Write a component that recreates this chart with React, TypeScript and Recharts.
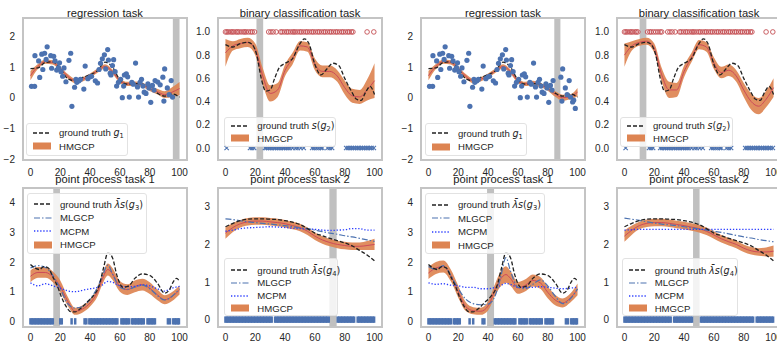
import React from "react";
import { ComposedChart, XAxis, YAxis, Area, Line, Scatter, ReferenceArea } from "recharts";

const FONT = '"Liberation Sans", Arial, Helvetica, sans-serif';
const MATH = '"DejaVu Sans", "Liberation Sans", sans-serif';

const XT = [0, 20, 40, 60, 80, 100];
const X5 = [0, 5, 10, 15, 20, 25, 30, 35, 40, 45, 50, 55, 60, 65, 70, 75, 80, 85, 90, 95, 100];

// ---------- regression task ----------
const regPtsX = [0.7, 2.8, 3, 5.5, 6.2, 7.6, 8.3, 9.5, 10.5, 11.2, 13.6, 14.2, 15.6, 16.5, 17.6, 18.8, 19.5, 20.5, 21.6, 22.5, 23.8, 25.8, 27, 27.8, 29.6, 30.5, 31.1, 32.5, 33.5, 35.8, 36.7, 38.5, 40, 41, 43.5, 45, 46, 47, 48.2, 49.6, 50.5, 51.8, 52.3, 53.5, 54, 55, 55.8, 56.8, 57.8, 59, 60.5, 61.6, 62.5, 63, 64.3, 65.2, 66.3, 68, 69, 70.5, 71.8, 72.5, 73.5, 74.5, 75.5, 76.3, 77.5, 78.8, 79.5, 80.7, 81.8, 82.9, 83.6, 85.4, 87, 88.8, 89.5, 90, 91.8, 93, 94.4, 95.3, 96.7, 97.4, 98.5];
const regPtsY = [0.37, 0.37, 1.37, 1.2, 0.66, 1.42, 0.92, 1.45, 1.25, 1.66, 1.37, 0.96, 1.35, 1.2, 0.9, 0.98, 1.14, 0.85, 0.7, 0.97, 0.52, 1.22, 1.45, -0.28, 0.34, 0.6, 0.5, 0.55, 0.6, 0.28, 1.03, 0.62, 0.68, 0.7, 0.55, 0.48, 0.92, 1.12, 1.27, 1.4, 0.94, 1.57, 1.23, 0.8, 0.74, 1.05, 1.24, 0.85, 0.38, 0.5, 0.6, 0.0, 0.38, 0.74, 0.78, 0.68, 0.02, 0.5, 0.44, 1.13, 0.35, 0.02, 0.5, 0.6, 0.38, 0.18, 0.14, 0.45, 0.32, -0.15, 0.4, 0.25, 0.56, 0.51, 0.42, 0.67, -0.11, 0.94, 0.32, 0.1, 0.56, 0.02, -0.14, -0.08, -0.35];
const regTruth = [0.95, 0.97, 1.15, 1.17, 0.95, 0.62, 0.55, 0.66, 0.75, 0.88, 1.16, 1.0, 0.58, 0.44, 0.46, 0.44, 0.32, 0.15, 0.05, 0.12, 0.02];
const regMeanA = [0.72, 1.02, 1.18, 1.15, 0.95, 0.7, 0.55, 0.6, 0.72, 0.88, 1.02, 0.85, 0.55, 0.45, 0.46, 0.42, 0.3, 0.2, 0.1, 0.18, 0.3];
const regStdA = [0.15, 0.08, 0.07, 0.07, 0.07, 0.07, 0.07, 0.07, 0.07, 0.07, 0.07, 0.07, 0.07, 0.07, 0.07, 0.07, 0.08, 0.09, 0.11, 0.16, 0.21];
const regMeanB = [0.72, 1.02, 1.18, 1.15, 0.95, 0.7, 0.55, 0.6, 0.72, 0.88, 1.02, 0.85, 0.55, 0.45, 0.48, 0.42, 0.3, 0.12, 0.0, 0.03, 0.18];
const regStdB = [0.15, 0.08, 0.07, 0.07, 0.07, 0.07, 0.07, 0.07, 0.07, 0.07, 0.07, 0.07, 0.07, 0.07, 0.07, 0.07, 0.07, 0.09, 0.1, 0.08, 0.14];

// ---------- binary classification task ----------
const binPos = [0, 1, 2, 3.5, 4.5, 5.5, 7, 8, 9, 10.5, 12, 13, 14, 15.5, 17, 18, 19.5, 21, 22.5, 24, 25, 29, 30.5, 32, 34, 37, 38, 39.5, 41, 42, 43.5, 45, 46, 47, 48.5, 50, 51, 52.5, 54, 55, 56.5, 58, 59, 60.5, 62, 63, 64.5, 66, 67, 68.5, 70, 71, 72.5, 74, 75, 76.5, 78, 79, 80.5, 82, 83, 84.5, 85.5, 95, 99.5];
const binNeg = [0.8, 16.5, 17.8, 19.2, 24, 25.2, 26.5, 27.5, 28.8, 30, 31.2, 32.5, 33.5, 34.8, 36, 37.2, 38.5, 39.5, 40.8, 42, 43.2, 45, 47, 48.5, 50.5, 52.5, 58.2, 59.5, 61, 62.5, 64, 65, 68.5, 70, 71.5, 81, 82.2, 83.5, 84.8, 86, 87.2, 88.5, 89.5, 90.8, 92, 93.2, 94.5, 95.5, 96.8, 98, 99.5];
const binTruthX = [0, 5, 10, 15, 18, 21, 24, 27, 30, 33, 36, 40, 45, 50, 53, 56, 60, 64, 68, 72, 76, 80, 84, 88, 91, 94, 97, 100];
const binTruthY = [0.89, 0.87, 0.9, 0.91, 0.89, 0.8, 0.6, 0.49, 0.5, 0.6, 0.69, 0.73, 0.77, 0.9, 0.94, 0.9, 0.72, 0.63, 0.68, 0.73, 0.71, 0.6, 0.5, 0.42, 0.41, 0.48, 0.53, 0.46];
const binMeanA = [0.82, 0.88, 0.9, 0.91, 0.85, 0.62, 0.47, 0.5, 0.67, 0.77, 0.88, 0.87, 0.72, 0.66, 0.66, 0.62, 0.52, 0.45, 0.44, 0.5, 0.58];
const binStdA = [0.12, 0.04, 0.04, 0.04, 0.05, 0.07, 0.07, 0.06, 0.05, 0.05, 0.04, 0.04, 0.05, 0.05, 0.05, 0.05, 0.06, 0.06, 0.06, 0.09, 0.15];
const binMeanB = [0.8, 0.88, 0.91, 0.92, 0.86, 0.63, 0.5, 0.5, 0.66, 0.78, 0.89, 0.87, 0.73, 0.65, 0.67, 0.62, 0.5, 0.4, 0.36, 0.42, 0.52];
const binStdB = [0.1, 0.04, 0.03, 0.03, 0.04, 0.06, 0.07, 0.06, 0.05, 0.04, 0.04, 0.04, 0.05, 0.05, 0.05, 0.05, 0.06, 0.07, 0.07, 0.07, 0.08];

// ---------- point process task 1 ----------
const PX = [0, 5, 10, 15, 20, 25, 30, 35, 40, 45, 48, 52, 55, 60, 65, 70, 75, 80, 85, 90, 95, 100];
const pp1TruthX = [0, 3, 6, 9, 12, 15, 18, 21, 24, 27, 30, 34, 38, 42, 46, 49, 52, 55, 58, 62, 66, 70, 75, 80, 85, 90, 93, 96, 98, 100];
const pp1TruthY = [1.92, 1.8, 1.75, 1.85, 1.8, 1.5, 1.2, 0.8, 0.5, 0.33, 0.32, 0.45, 0.65, 0.85, 1.2, 1.8, 2.32, 2.15, 1.55, 1.15, 1.2, 1.45, 1.6, 1.55, 1.3, 0.95, 1.05, 1.35, 1.45, 1.35];
const pp1MeanA = [1.52, 1.65, 1.65, 1.5, 1.18, 0.68, 0.34, 0.42, 0.62, 1.0, 1.4, 1.75, 1.6, 1.18, 1.07, 1.18, 1.24, 1.12, 0.9, 0.73, 0.84, 1.06];
const pp1StdA = [0.2, 0.18, 0.18, 0.18, 0.2, 0.15, 0.12, 0.12, 0.12, 0.15, 0.18, 0.2, 0.2, 0.18, 0.18, 0.2, 0.2, 0.2, 0.18, 0.15, 0.15, 0.15];
const pp1MlgcpA = [1.8, 1.88, 1.82, 1.55, 1.1, 0.6, 0.45, 0.5, 0.75, 1.15, 1.5, 1.9, 1.6, 1.15, 1.08, 1.15, 1.22, 1.1, 0.88, 0.72, 0.85, 1.1];
const pp1McpmA = [1.3, 1.2, 1.27, 1.2, 1.12, 1.03, 1.0, 1.05, 1.1, 1.15, 1.22, 1.35, 1.32, 1.2, 1.17, 1.18, 1.23, 1.2, 1.1, 1.02, 1.12, 1.18];
const pp1MeanB = [1.63, 1.8, 1.85, 1.55, 1.0, 0.5, 0.36, 0.34, 0.52, 1.1, 1.4, 1.58, 1.45, 1.13, 1.22, 1.38, 1.3, 0.98, 0.72, 0.62, 0.78, 1.08];
const pp1StdB = [0.2, 0.2, 0.2, 0.2, 0.2, 0.15, 0.12, 0.12, 0.15, 0.2, 0.25, 0.28, 0.25, 0.2, 0.2, 0.2, 0.2, 0.2, 0.18, 0.15, 0.15, 0.2];
const pp1MlgcpB = [1.85, 1.75, 1.88, 1.55, 1.1, 0.75, 0.6, 0.56, 0.58, 0.9, 1.4, 2.15, 1.7, 1.15, 1.1, 1.25, 1.4, 1.2, 0.85, 0.6, 0.75, 1.1];
const pp1McpmB = [1.3, 1.25, 1.27, 1.22, 1.2, 1.15, 1.15, 1.1, 1.1, 1.15, 1.2, 1.28, 1.25, 1.15, 1.15, 1.15, 1.17, 1.15, 1.12, 1.1, 1.12, 1.15];
const pp1Events = [0, 1, 2, 3, 4, 5, 6, 7, 8, 9, 10, 11, 12, 13, 14, 15, 17, 18, 19, 20, 21, 27.6, 30, 36.3, 37.5, 39.5, 40.5, 41.5, 42.5, 43.5, 44.5, 45.5, 46.5, 47.5, 48.5, 49.5, 50.5, 51.5, 52.5, 53.5, 54.5, 55.5, 56.5, 57.5, 58.3, 61, 62, 63, 64, 65, 66, 68, 69, 70, 71, 72, 73, 74, 75, 76, 78.5, 79.5, 80.5, 81.5, 82.5, 83.5, 92.2, 93.6, 95.8, 96.8, 97.8, 98.8, 99.6];

// ---------- point process task 2 ----------
const pp2Truth = [2.47, 2.56, 2.63, 2.67, 2.68, 2.68, 2.67, 2.66, 2.63, 2.59, 2.53, 2.42, 2.3, 2.23, 2.16, 2.1, 2.04, 1.96, 1.84, 1.72, 1.56];
const pp2MeanA = [2.3, 2.45, 2.55, 2.6, 2.62, 2.62, 2.6, 2.58, 2.55, 2.5, 2.45, 2.35, 2.22, 2.12, 2.05, 2.0, 1.97, 1.95, 1.95, 1.97, 2.0];
const pp2StdA = [0.15, 0.12, 0.1, 0.1, 0.1, 0.1, 0.1, 0.1, 0.1, 0.1, 0.1, 0.1, 0.1, 0.1, 0.1, 0.1, 0.1, 0.1, 0.1, 0.12, 0.15];
const pp2MlgcpA = [2.68, 2.66, 2.63, 2.6, 2.58, 2.56, 2.54, 2.52, 2.5, 2.47, 2.44, 2.42, 2.38, 2.34, 2.3, 2.27, 2.23, 2.2, 2.16, 2.12, 2.08];
const pp2McpmA = [2.35, 2.38, 2.42, 2.44, 2.45, 2.46, 2.47, 2.46, 2.45, 2.43, 2.42, 2.41, 2.4, 2.38, 2.37, 2.38, 2.39, 2.42, 2.42, 2.38, 2.38];
const pp2MeanB = [2.22, 2.38, 2.5, 2.56, 2.58, 2.58, 2.56, 2.53, 2.5, 2.46, 2.42, 2.35, 2.25, 2.15, 2.07, 2.0, 1.9, 1.83, 1.8, 1.8, 1.82];
const pp2StdB = [0.15, 0.12, 0.1, 0.1, 0.1, 0.1, 0.1, 0.1, 0.1, 0.1, 0.1, 0.1, 0.1, 0.1, 0.1, 0.1, 0.1, 0.1, 0.1, 0.12, 0.15];
const pp2MlgcpB = [2.7, 2.67, 2.64, 2.6, 2.57, 2.54, 2.52, 2.5, 2.47, 2.44, 2.41, 2.38, 2.35, 2.32, 2.28, 2.24, 2.2, 2.17, 2.13, 2.1, 2.07];
const pp2McpmB = [2.38, 2.39, 2.4, 2.4, 2.4, 2.4, 2.4, 2.4, 2.4, 2.4, 2.4, 2.4, 2.4, 2.4, 2.4, 2.4, 2.4, 2.4, 2.4, 2.4, 2.4];
const pp2Events = [0, 1, 2, 3, 4, 5, 6, 7, 8, 9, 10, 11, 12, 13, 14, 15, 16, 17, 18, 19, 20, 21, 22, 23, 24, 25, 26, 27, 28, 29, 30, 31, 33.3, 34.3, 35.3, 36.3, 37.3, 38.3, 39.3, 40.3, 41.3, 42.3, 43.3, 44.3, 45.3, 46.3, 47.3, 48.3, 49.3, 50.3, 51.3, 52.3, 53.3, 54.3, 55.3, 56.3, 57.3, 58.3, 59.3, 60.3, 61.3, 62.3, 63.3, 64.3, 65.3, 66.3, 67.3, 68.3, 69.3, 70.3, 71.3, 72.3, 73.3, 74.3, 75.3, 76.3, 77.3, 78.3, 79.3, 80.3, 81.3, 82.3, 83.3, 84.3, 85.3, 86.3, 88.7, 89.7, 90.7, 91.7, 92.7, 93.7, 94.7, 95.7, 96.7, 97.7, 98.7, 99.7];

// held-out windows (grey bands)
const maskReg1: [number, number] = [95.5, 100];
const maskReg2: [number, number] = [84.4, 88.5];
const maskBin1: [number, number] = [20.8, 25.3];
const maskBin2: [number, number] = [10.2, 14.7];
const maskPp1a: [number, number] = [15.3, 19.8];
const maskPp1b: [number, number] = [39.3, 44];
const maskPp2a: [number, number] = [69.7, 74.6];
const maskPp2b: [number, number] = [46, 50.4];

// ---------- helpers ----------
const BLUE = "#4c72b0";
const ORANGE = "#dd8452";
const RED = "#cc4a5a";
const GREY = "#c0c0c0";
const W = 164;

const xy = (xs: number[], ys: number[]) => xs.map((x, i) => ({ x, y: ys[i] }));
const bandOf = (xs: number[], m: number[], s: number[]) => xs.map((x, i) => ({ x, band: [m[i] - s[i], m[i] + s[i]] }));
const out = (x: number, m: [number, number]) => x < m[0] || x > m[1];

const dotShape = (p: any) => <circle cx={p.cx} cy={p.cy} r={2.6} fill={BLUE} />;
const ringShape = (p: any) => <circle cx={p.cx} cy={p.cy} r={2.3} fill="none" stroke="#c44e52" strokeWidth={0.9} />;
const crossShape = (p: any) => (
  <path d={`M${p.cx - 2.2},${p.cy - 2.2}L${p.cx + 2.2},${p.cy + 2.2}M${p.cx - 2.2},${p.cy + 2.2}L${p.cx + 2.2},${p.cy - 2.2}`} stroke={BLUE} strokeWidth={1.1} fill="none" />
);
const eventShape = (p: any) => <rect x={p.cx - 1.25} y={p.cy - 3.2} width={2.5} height={6.4} fill={BLUE} />;

const tickStyle = { fontSize: 10, fill: "#262626", fontFamily: FONT };

type PanelProps = {
  L: number; T: number; H: number;
  yDomain: [number, number]; yTicks: number[]; fmt: (v: number) => string;
  mask: [number, number]; title: string; titleOff: number; xMargin: number;
  children: React.ReactNode;
};

function Panel({ L, T, H, yDomain, yTicks, fmt, mask, title, titleOff, xMargin, children }: PanelProps) {
  return (
    <>
      <div style={{ position: "absolute", left: L - 40, top: T - 5 }}>
        <ComposedChart width={W + 45} height={H + 30} margin={{ top: 5, right: 5, bottom: 0, left: 10 }}>
          <XAxis dataKey="x" type="number" domain={[-5, 105]} ticks={XT} allowDataOverflow interval={0}
            tickLine={false} axisLine={false} height={25} tickMargin={xMargin} tick={tickStyle} />
          <YAxis type="number" domain={yDomain} ticks={yTicks} allowDataOverflow interval={0}
            tickLine={false} axisLine={false} width={30} tick={tickStyle} tickFormatter={fmt} />
          <ReferenceArea x1={mask[0]} x2={mask[1]} y1={yDomain[0]} y2={yDomain[1]} fill={GREY} fillOpacity={1} stroke="none" ifOverflow="hidden" />
          {children}
        </ComposedChart>
      </div>
      <div style={{ position: "absolute", left: L - 1.25, top: T - 1.25, width: W + 2.5, height: H + 2.5, border: "2.5px solid #c4c4c4", boxSizing: "border-box", pointerEvents: "none" }} />
      <div style={{ position: "absolute", left: L - 20, width: W + 40, top: T - titleOff - 7, lineHeight: "14px", fontSize: 11.2, textAlign: "center", color: "#1a1a1a", fontFamily: FONT, whiteSpace: "nowrap" }}>{title}</div>
    </>
  );
}

type LegItem = { kind: "dash" | "dashdot" | "dot" | "band"; label: React.ReactNode };
function Legend({ left, top, width, rowH, padTop, padBottom, items }: { left: number; top: number; width: number; rowH: number; padTop: number; padBottom: number; items: LegItem[] }) {
  const sample = (k: LegItem["kind"]) => {
    if (k === "band") return <rect x={0} y={0.5} width={18} height={7} fill={ORANGE} />;
    if (k === "dash") return <line x1={0} y1={4} x2={18} y2={4} stroke="#222" strokeWidth={1.3} strokeDasharray="4 2" />;
    if (k === "dashdot") return <line x1={0} y1={4} x2={18} y2={4} stroke={BLUE} strokeWidth={1.2} strokeDasharray="6 2 1.5 2" />;
    return <line x1={0} y1={4} x2={18} y2={4} stroke="#2a3cff" strokeWidth={1.3} strokeDasharray="1.3 1.8" />;
  };
  return (
    <div style={{ position: "absolute", left, top, width, boxSizing: "border-box", paddingTop: padTop, paddingBottom: padBottom, paddingLeft: 6, border: "1px solid #e2e2e2", borderRadius: 3, background: "rgba(255,255,255,0.8)", fontFamily: FONT, fontSize: 9.6, color: "#262626" }}>
      {items.map((it, i) => (
        <div key={i} style={{ height: rowH, display: "flex", alignItems: "center", whiteSpace: "nowrap" }}>
          <svg width={18} height={8} style={{ marginRight: 8, flex: "none" }}>{sample(it.kind)}</svg>
          <span>{it.label}</span>
        </div>
      ))}
    </div>
  );
}

const M = ({ children }: { children: React.ReactNode }) => <span style={{ fontFamily: MATH, fontStyle: "italic" }}>{children}</span>;
const Up = ({ children }: { children: React.ReactNode }) => <span style={{ fontFamily: MATH }}>{children}</span>;
const Sb = ({ children }: { children: React.ReactNode }) => <span style={{ fontFamily: MATH, fontSize: "0.7em", verticalAlign: "-0.3em", lineHeight: 0 }}>{children}</span>;

const fmtInt = (v: number) => String(v).replace("-", "\u2212");
const fmt1 = (v: number) => v.toFixed(1);

function regSeries(mask: [number, number], mean: number[], std: number[]) {
  const pts = regPtsX.map((x, i) => ({ x, y: regPtsY[i] })).filter((p) => out(p.x, mask));
  return [
    <Scatter key="pts" data={pts} dataKey="y" shape={dotShape} isAnimationActive={false} />,
    <Area key="band" data={bandOf(X5, mean, std)} dataKey="band" type="monotone" stroke="none" fill={ORANGE} fillOpacity={0.92} isAnimationActive={false} />,
    <Line key="mean" data={xy(X5, mean)} dataKey="y" type="monotone" stroke={RED} strokeWidth={1} dot={false} isAnimationActive={false} />,
    <Line key="gt" data={xy(X5, regTruth)} dataKey="y" type="monotone" stroke="#222" strokeWidth={1.3} strokeDasharray="4 2" dot={false} isAnimationActive={false} />,
  ];
}

function binSeries(mask: [number, number], mean: number[], std: number[]) {
  const pos = binPos.filter((x) => out(x, mask)).map((x) => ({ x, y: 1 }));
  const neg = binNeg.filter((x) => out(x, mask)).map((x) => ({ x, y: 0 }));
  return [
    <Area key="band" data={bandOf(X5, mean, std)} dataKey="band" type="monotone" stroke="none" fill={ORANGE} fillOpacity={0.92} isAnimationActive={false} />,
    <Line key="mean" data={xy(X5, mean)} dataKey="y" type="monotone" stroke={RED} strokeWidth={1} dot={false} isAnimationActive={false} />,
    <Line key="gt" data={xy(binTruthX, binTruthY)} dataKey="y" type="monotone" stroke="#222" strokeWidth={1.3} strokeDasharray="4 2" dot={false} isAnimationActive={false} />,
    <Scatter key="pos" data={pos} dataKey="y" shape={ringShape} isAnimationActive={false} />,
    <Scatter key="neg" data={neg} dataKey="y" shape={crossShape} isAnimationActive={false} />,
  ];
}

function ppSeries(xs: number[], gx: number[], gy: number[], events: number[], mask: [number, number], mean: number[], std: number[], mlgcp: number[], mcpm: number[]) {
  const ev = events.filter((x) => out(x, mask)).map((x) => ({ x, y: 0 }));
  return [
    <Area key="band" data={bandOf(xs, mean, std)} dataKey="band" type="monotone" stroke="none" fill={ORANGE} fillOpacity={0.92} isAnimationActive={false} />,
    <Line key="mean" data={xy(xs, mean)} dataKey="y" type="monotone" stroke={RED} strokeWidth={1} dot={false} isAnimationActive={false} />,
    <Line key="mcpm" data={xy(xs, mcpm)} dataKey="y" type="monotone" stroke="#2a3cff" strokeWidth={1.3} strokeDasharray="1.3 1.8" dot={false} isAnimationActive={false} />,
    <Line key="mlgcp" data={xy(xs, mlgcp)} dataKey="y" type="monotone" stroke={BLUE} strokeWidth={1.2} strokeDasharray="6 2 1.5 2" dot={false} isAnimationActive={false} />,
    <Line key="gt" data={xy(gx, gy)} dataKey="y" type="monotone" stroke="#222" strokeWidth={1.3} strokeDasharray="4 2" dot={false} isAnimationActive={false} />,
    <Scatter key="ev" data={ev} dataKey="y" shape={eventShape} isAnimationActive={false} />,
  ];
}

const regLegend: LegItem[] = [
  { kind: "dash", label: <>ground truth <M>g</M><Sb>1</Sb></> },
  { kind: "band", label: "HMGCP" },
];
const binLegend: LegItem[] = [
  { kind: "dash", label: <>ground truth <M>s</M><Up>(</Up><M>g</M><Sb>2</Sb><Up>)</Up></> },
  { kind: "band", label: "HMGCP" },
];
const ppLegend = (n: number): LegItem[] => [
  { kind: "dash", label: <>ground truth <M>{"\u03BB\u0304"}s</M><Up>(</Up><M>g</M><Sb>{n}</Sb><Up>)</Up></> },
  { kind: "dashdot", label: "MLGCP" },
  { kind: "dot", label: "MCPM" },
  { kind: "band", label: "HMGCP" },
];

const R0 = { T: 18.3, H: 141 };
const R1 = { T: 188.3, H: 138.4 };
const regDom: [number, number] = [-2, 2.6];
const binDom: [number, number] = [-0.095, 1.12];
const pp1Dom: [number, number] = [-0.17, 4.5];
const pp2Dom: [number, number] = [-0.18, 3.5];

export default function App() {
  return (
    <div style={{ position: "absolute", left: 0, top: 0, width: 777, height: 347, background: "#fff", overflow: "hidden", fontFamily: FONT }}>
      <Panel L={23} T={R0.T} H={R0.H} yDomain={regDom} yTicks={[-2, -1, 0, 1, 2]} fmt={fmtInt} mask={maskReg1} title="regression task" titleOff={5.8} xMargin={4}>
        {regSeries(maskReg1, regMeanA, regStdA)}
      </Panel>
      <Panel L={218} T={R0.T} H={R0.H} yDomain={binDom} yTicks={[0, 0.2, 0.4, 0.6, 0.8, 1.0]} fmt={fmt1} mask={maskBin1} title="binary classification task" titleOff={5.8} xMargin={4}>
        {binSeries(maskBin1, binMeanA, binStdA)}
      </Panel>
      <Panel L={421} T={R0.T} H={R0.H} yDomain={regDom} yTicks={[-2, -1, 0, 1, 2]} fmt={fmtInt} mask={maskReg2} title="regression task" titleOff={5.8} xMargin={4}>
        {regSeries(maskReg2, regMeanB, regStdB)}
      </Panel>
      <Panel L={617} T={R0.T} H={R0.H} yDomain={binDom} yTicks={[0, 0.2, 0.4, 0.6, 0.8, 1.0]} fmt={fmt1} mask={maskBin2} title="binary classification task" titleOff={5.8} xMargin={4}>
        {binSeries(maskBin2, binMeanB, binStdB)}
      </Panel>

      <Panel L={23} T={R1.T} H={R1.H} yDomain={pp1Dom} yTicks={[0, 1, 2, 3, 4]} fmt={fmtInt} mask={maskPp1a} title="point process task 1" titleOff={9} xMargin={2}>
        {ppSeries(PX, pp1TruthX, pp1TruthY, pp1Events, maskPp1a, pp1MeanA, pp1StdA, pp1MlgcpA, pp1McpmA)}
      </Panel>
      <Panel L={218} T={R1.T} H={R1.H} yDomain={pp2Dom} yTicks={[0, 1, 2, 3]} fmt={fmtInt} mask={maskPp2a} title="point process task 2" titleOff={9} xMargin={2}>
        {ppSeries(X5, X5, pp2Truth, pp2Events, maskPp2a, pp2MeanA, pp2StdA, pp2MlgcpA, pp2McpmA)}
      </Panel>
      <Panel L={421} T={R1.T} H={R1.H} yDomain={pp1Dom} yTicks={[0, 1, 2, 3, 4]} fmt={fmtInt} mask={maskPp1b} title="point process task 1" titleOff={9} xMargin={2}>
        {ppSeries(PX, pp1TruthX, pp1TruthY, pp1Events, maskPp1b, pp1MeanB, pp1StdB, pp1MlgcpB, pp1McpmB)}
      </Panel>
      <Panel L={617} T={R1.T} H={R1.H} yDomain={pp2Dom} yTicks={[0, 1, 2, 3]} fmt={fmtInt} mask={maskPp2b} title="point process task 2" titleOff={9} xMargin={2}>
        {ppSeries(X5, X5, pp2Truth, pp2Events, maskPp2b, pp2MeanB, pp2StdB, pp2MlgcpB, pp2McpmB)}
      </Panel>

      <Legend left={26} top={123} width={102} rowH={13.5} padTop={2} padBottom={2} items={regLegend} />
      <Legend left={425} top={123.3} width={102} rowH={13.5} padTop={2} padBottom={2} items={regLegend} />
      <Legend left={224.3} top={116.7} width={112} rowH={12.7} padTop={1.5} padBottom={1} items={binLegend} />
      <Legend left={620} top={116.7} width={113} rowH={12.7} padTop={1.5} padBottom={1} items={binLegend} />
      <Legend left={27} top={193} width={120} rowH={13.5} padTop={3.5} padBottom={1.5} items={ppLegend(3)} />
      <Legend left={425} top={193.3} width={120} rowH={13.5} padTop={3.5} padBottom={1.5} items={ppLegend(3)} />
      <Legend left={224.3} top={258.3} width={114} rowH={12.7} padTop={4.5} padBottom={0.5} items={ppLegend(4)} />
      <Legend left={621.7} top={258.3} width={116} rowH={12.7} padTop={4.5} padBottom={0.5} items={ppLegend(4)} />
    </div>
  );
}
